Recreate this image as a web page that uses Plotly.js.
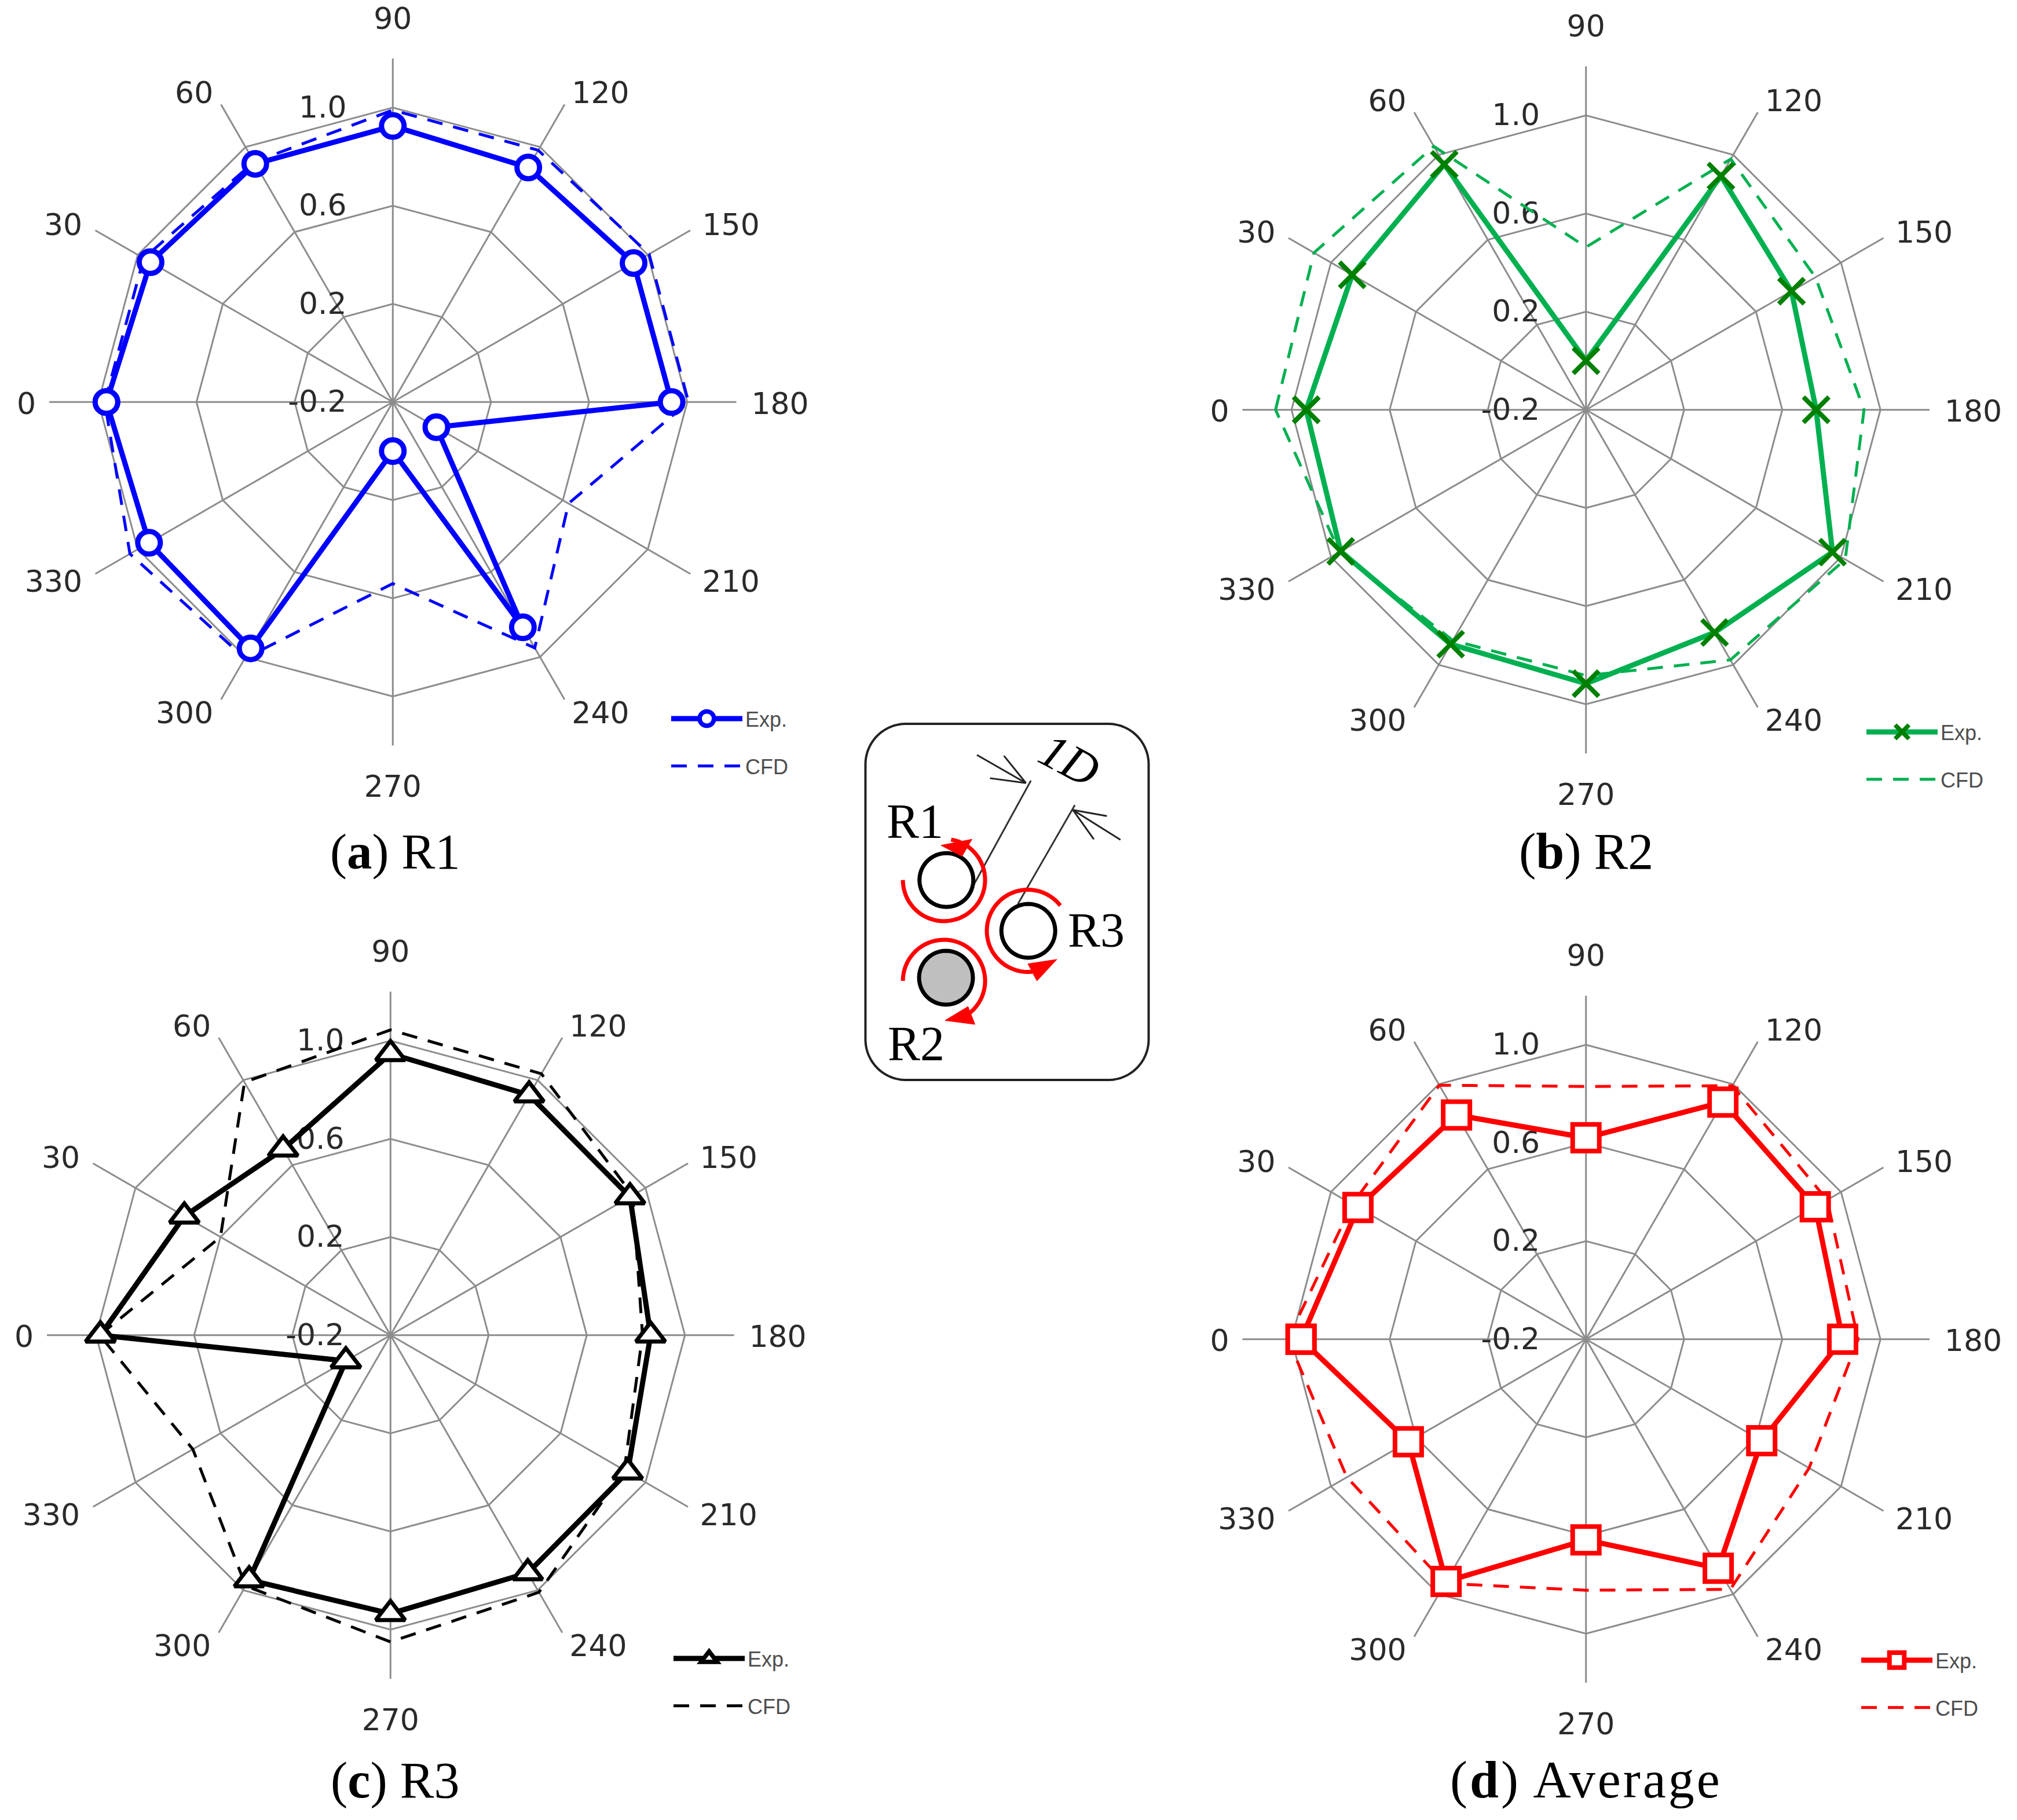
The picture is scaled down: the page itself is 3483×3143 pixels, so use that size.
<!DOCTYPE html>
<html>
<head>
<meta charset="utf-8">
<script src="https://cdn.plot.ly/plotly-3.0.1.min.js"></script>
<style>
html,body{margin:0;padding:0;background:#fff}
g.traces .legendlines path.js-line{stroke-width:9px !important}
g.traces .legendlines path.js-line[style*="27px"]{stroke-width:5px !important}
</style>
</head>
<body>
<div id="chart" style="width:3483px;height:3143px"></div>
<script>
const W = 3483, H = 3143;
const angles = ['0','30','60','90','120','150','180','210','240','270','300','330'];
const radialTicks = [-0.2, 0.2, 0.6, 1.0];
const radialLabels = ['-0.2', '0.2', '0.6', '1.0'];

const r1Exp = [0.967,0.94,0.921,0.925,0.904,0.933,0.936,0.005,0.86,0.0,0.959,0.947];
const r1Cfd = [0.974,0.972,0.93,0.99,0.985,1.006,1.005,0.627,0.957,0.54,1.006,1.037];
const r2Exp = [0.94,0.90,0.955,0.0,0.90,0.767,0.738,0.96,0.848,0.916,0.903,0.954];
const r2Cfd = [1.065,1.08,1.04,0.463,0.98,0.88,0.933,1.02,0.977,0.883,0.885,0.96];
const r3Exp = [0.982,0.77,0.675,0.947,0.93,0.927,0.86,0.916,0.919,0.935,0.952,0.01];
const r3Cfd = [0.985,0.60,0.99,1.044,1.03,0.94,0.827,0.90,1.01,1.05,0.98,0.73];
const avgExp = [0.961,0.873,0.855,0.621,0.916,0.879,0.846,0.627,0.878,0.618,0.94,0.636];
const avgCfd = [1.015,0.90,0.995,0.83,0.993,0.935,0.909,0.85,0.977,0.823,0.949,0.925];

/* small per-label placement corrections for the angular tick labels, in page pixels */
const labelNudge = {
  '0':[18,2],'30':[13,18],'60':[7,33],'90':[0,0],'120':[-8,33],'150':[-15,18],
  '180':[-15,2],'210':[-15,-31],'240':[-8,-49],'270':[0,-4],'300':[7,-49],'330':[13,-31]
};

const panels = [
  {id:'',  name:'polar',  cx:678.3,  cy:694.3,  exp:r1Exp,  cfd:r1Cfd,  line:'#0000FF', mark:'#0000FF', sym:'circle', size:39, mw:9, lw:9, keyScale:1.55, lx:1159, ly:1236, cap:'(<b>a</b>) R1',      capX:682, capY:1471, capSize:87},
  {id:'2', name:'polar2', cx:2738.7, cy:707.7,  exp:r2Exp,  cfd:r2Cfd,  line:'#00B050', mark:'#008000', sym:'x-thin', size:44, mw:8, lw:9, keyScale:1.5, lx:3223, ly:1259, cap:'(<b>b</b>) R2',      capX:2739, capY:1471, capSize:88},
  {id:'3', name:'polar3', cx:674.3,  cy:2305.7, exp:r3Exp,  cfd:r3Cfd,  line:'#000000', mark:'#000000', sym:'triangle-up', size:44, mw:7, lw:9, keyScale:1.5, lx:1163, ly:2859, cap:'(<b>c</b>) R3',      capX:682, capY:3074, capSize:88},
  {id:'4', name:'polar4', cx:2738.7, cy:2312.7, exp:avgExp, cfd:avgCfd, line:'#FF0000', mark:'#FF0000', sym:'square', size:46, mw:8, lw:9, keyScale:1.6, lx:3214, ly:2862, cap:'(<b>d</b>) Average', capX:2739, capY:3074, capSize:90}
];

const FRAME = 593.25;
const closed = a => a.concat([a[0]]);
const layout = {
  width: W, height: H, autosize: false,
  margin: {l:0, r:0, t:0, b:0, pad:0},
  paper_bgcolor: '#ffffff',
  showlegend: true,
  annotations: [], shapes: []
};
const data = [];
panels.forEach(p => {
  const legendId = 'legend' + p.id;
  data.push({
    type:'scatterpolar', subplot:p.name, mode:'lines', name:'CFD',
    theta: closed(angles), r: closed(p.cfd),
    line:{color:p.line, width:5, dash:'27px,19px'},
    legend:legendId, legendgroup:'cfd'+p.id, legendrank:2, cliponaxis:true, hoverinfo:'skip'
  });
  data.push({
    type:'scatterpolar', subplot:p.name, mode:'lines+markers', name:'Exp.',
    theta: closed(angles), r: closed(p.exp),
    line:{color:p.line, width:p.lw},
    marker:{symbol:p.sym, size:p.size, color: p.sym==='x-thin' ? p.mark : '#ffffff', line:{color:p.mark, width:p.mw}},
    legend:legendId, legendgroup:'exp'+p.id, legendrank:1, cliponaxis:true, hoverinfo:'skip'
  });
  layout[p.name] = {
    domain:{x:[(p.cx-FRAME)/W,(p.cx+FRAME)/W], y:[1-(p.cy+FRAME)/H,1-(p.cy-FRAME)/H]},
    gridshape:'linear', bgcolor:'rgba(0,0,0,0)',
    angularaxis:{
      type:'category', categoryorder:'array', categoryarray:angles,
      rotation:180, direction:'clockwise',
      showline:false, showgrid:true, gridcolor:'#8c8c8c', gridwidth:3,
      ticks:'outside', ticklen:30, tickcolor:'rgba(0,0,0,0)',
      tickfont:{family:'DejaVu Sans', size:52, color:'#2a2a2a'}
    },
    radialaxis:{
      range:[-0.2,1.2], angle:90, side:'counterclockwise',
      tickmode:'array', tickvals:radialTicks, ticktext:radialLabels,
      showline:false, showgrid:true, gridcolor:'#8c8c8c', gridwidth:3,
      ticks:'outside', ticklen:66, tickcolor:'rgba(0,0,0,0)',
      tickangle:90, layer:'below traces',
      tickfont:{family:'DejaVu Sans', size:52, color:'#2a2a2a'}
    }
  };
  layout[legendId] = {
    x:(p.lx-5)/W, xanchor:'left', y:1-(p.ly-25)/H, yanchor:'top',
    bgcolor:'rgba(0,0,0,0)', borderwidth:0,
    itemwidth:123, traceorder:'grouped', tracegroupgap:32,
    font:{family:'Liberation Sans', size:36, color:'#4d4d4d'}
  };
  layout.annotations.push({
    xref:'paper', yref:'paper', x:p.capX/W, y:1-p.capY/H, showarrow:false,
    xanchor:'center', yanchor:'middle', text:p.cap,
    font:{family:'Liberation Serif', size:p.capSize, color:'#000000'}
  });
});

/* inset schematic, drawn in page pixels */
const fx = x => (x/W).toFixed(5), fy = y => (1-y/H).toFixed(5);
const pathOf = pts => pts.map((q,i)=>(i?'L':'M')+fx(q[0])+','+fy(q[1])).join(' ');
const arc = (cx,cy,r,a0,a1) => {
  const pts=[]; const n=48;
  for(let i=0;i<=n;i++){const a=(a0+(a1-a0)*i/n)*Math.PI/180; pts.push([cx+r*Math.cos(a),cy+r*Math.sin(a)]);}
  return pts;
};
const addPath = (pts,color,width,fill,close) => layout.shapes.push({
  type:'path', xref:'paper', yref:'paper', layer:'above',
  path:pathOf(pts)+(close?' Z':''), line:{color:color,width:width}, fillcolor:fill||'rgba(0,0,0,0)'
});
const zp = (zx,zy) => [1480+zx/2.898, 1230+zy/2.371];

const bx0=1494.5,bx1=1983.5,by0=1250,by1=1865,br=70;
addPath([].concat(
  arc(bx0+br,by0+br,br,180,270), arc(bx1-br,by0+br,br,270,360),
  arc(bx1-br,by1-br,br,0,90), arc(bx0+br,by1-br,br,90,180)), '#222222', 4, null, true);

addPath([zp(870,280),zp(585,705)],'#333333',3);
addPath([zp(1090,380),zp(805,785)],'#333333',3);
[[zp(845,290),[zp(600,175),zp(735,178),zp(665,270)]],[zp(1080,400),[zp(1318,522),zp(1185,520),zp(1250,425)]]]
  .forEach(([tip,ends])=>ends.forEach(e=>addPath([e,tip],'#222222',3)));

const c1=zp(447,687), c3=zp(857,895), c2=zp(445,1087);
addPath(arc(c1[0],c1[1],46.5,0,360),'#000000',7,'#ffffff',true);
addPath(arc(c3[0],c3[1],46.5,0,360),'#000000',7,'#ffffff',true);
addPath(arc(c2[0],c2[1],46.5,0,360),'#000000',7,'#BFBFBF',true);

const a1=zp(435,687), a2=zp(435,1100), a3=zp(855,895);
addPath(arc(a1[0],a1[1],71,180,-80),'#FF0000',7);
addPath(arc(a2[0],a2[1],71,180,430),'#FF0000',7);
addPath(arc(a3[0],a3[1],71,-38,-280),'#FF0000',7);
addPath([zp(420,545),zp(575,520),zp(525,590)],'#FF0000',1,'#FF0000',true);
addPath([zp(440,1262),zp(555,1205),zp(590,1278)],'#FF0000',1,'#FF0000',true);
addPath([zp(1000,1012),zp(855,1030),zp(900,1100)],'#FF0000',1,'#FF0000',true);

const insetText = (q,text,angle) => layout.annotations.push({
  xref:'paper', yref:'paper', x:q[0]/W, y:1-q[1]/H, showarrow:false,
  xanchor:'center', yanchor:'middle', text:text, textangle:angle||0,
  font:{family:'Liberation Serif', size:84, color:'#000000'}
});
insetText(zp(290,447),'R1');
insetText(zp(295,1357),'R2');
insetText(zp(1197,892),'R3');
insetText(zp(1065,195),'<i>1D</i>',28);

Plotly.newPlot('chart', data, layout, {displayModeBar:false, staticPlot:true}).then(gd => {
  gd.querySelectorAll('g.traces').forEach(tr => {
    const sub = tr.__data__ && tr.__data__[0] && tr.__data__[0].trace && tr.__data__[0].trace.subplot;
    const panel = panels.find(p => p.name === sub) || panels[0];
    tr.querySelectorAll('.legendsymbols path.scatterpts').forEach(m => {
      m.setAttribute('transform', (m.getAttribute('transform') || '') + ' scale(' + panel.keyScale + ')');
    });
  });
  gd.querySelectorAll('.angularaxistick text').forEach(t => {
    const n = labelNudge[t.textContent.trim()];
    if (n) t.setAttribute('transform', 'translate(' + n[0] + ',' + n[1] + ') ' + (t.getAttribute('transform') || ''));
  });
  gd.querySelectorAll('.xtick text').forEach(t => {
    t.setAttribute('transform', 'translate(0,5) ' + (t.getAttribute('transform') || ''));
  });
  gd.querySelectorAll('.annotation-text').forEach(t => {
    if (t.textContent.indexOf('Average') >= 0) t.style.letterSpacing = '4px';
  });
});
</script>
</body>
</html>
